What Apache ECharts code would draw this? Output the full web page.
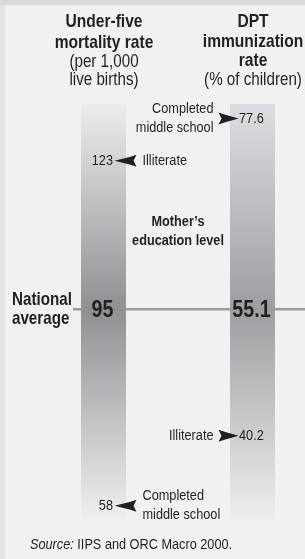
<!DOCTYPE html>
<html>
<head>
<meta charset="utf-8">
<script src="https://cdn.jsdelivr.net/npm/echarts@6/dist/echarts.min.js"></script>
<style>
  html, body { margin: 0; padding: 0; background: #f1f1f1; }
  #chart { width: 305px; height: 559px; }
</style>
</head>
<body>
<div id="chart"></div>
<script>
// no condensed face installed, so Liberation Sans squeezed horizontally
var FONT = '"Liberation Sans", Arial, sans-serif';
var SQUEEZE = 0.82;
var INK = '#231f20';

// data
var columns = ['Under-five mortality rate', 'DPT immunization rate'];
var nationalAverage = [95, 55.1];
var mortalityValues = [123, 58];
var mortalityLevels = ['Illiterate', 'Completed\nmiddle school'];
var dptValues = [77.6, 40.2];
var dptLevels = ['Completed\nmiddle school', 'Illiterate'];

var mortalityTitle = ['Under-five', 'mortality rate'];
var mortalityUnit = ['(per 1,000', 'live births)'];
var dptTitle = ['DPT', 'immunization', 'rate'];
var dptUnit = ['(% of children)'];

var BAR_W = 45;

// gradient band, darkest at the national average
function renderBand(colors) {
  return function (params, api) {
    var c = api.coord([api.value(0), api.value(1)]);
    var cs = params.coordSys;
    var stop = (c[1] - cs.y) / cs.height;
    return {
      type: 'group',
      children: [{
        type: 'rect',
        shape: { x: c[0] - BAR_W / 2, y: cs.y, width: BAR_W, height: cs.height },
        style: {
          fill: new echarts.graphic.LinearGradient(0, 0, 0, 1, [
            { offset: 0, color: colors[0] },
            { offset: stop, color: colors[1] },
            { offset: 1, color: colors[2] }
          ])
        }
      }, {
        type: 'text',
        x: c[0] - 1,
        y: c[1] + 1,
        scaleX: SQUEEZE,
        style: {
          text: String(api.value(1)),
          font: 'bold 24px ' + FONT,
          fill: INK,
          align: 'center',
          verticalAlign: 'middle'
        }
      }]
    };
  };
}

function renderAvgLine(params, api) {
  var c = api.coord([api.value(0), api.value(1)]);
  return {
    type: 'line',
    shape: { x1: c[0] - 30.5, y1: c[1], x2: api.getWidth(), y2: c[1] },
    style: { stroke: '#9b9b9b', lineWidth: 2.5 }
  };
}

// arrow markers; side = 1 means arrow points left (value on left)
function renderMarker(levels, side) {
  return function (params, api) {
    var c = api.coord([api.value(0), api.value(1)]);
    var y = c[1];
    var tip, back, pts;
    if (side === 1) {
      tip = c[0] + 11;
      back = tip + 22;
      pts = [[tip, y], [back - 6, y - 4], [back, y - 6], [back - 3, y], [back, y + 6], [back - 6, y + 4]];
    } else {
      tip = c[0] - 14;
      back = tip - 20;
      pts = [[tip, y], [back + 6, y - 4], [back, y - 6], [back + 3, y], [back, y + 6], [back + 6, y + 4]];
    }
    return {
      type: 'group',
      children: [{
        type: 'polygon',
        shape: { points: pts, smooth: 0 },
        style: { fill: INK }
      }, {
        type: 'text',
        x: side === 1 ? tip - 1.5 : tip + 0.5,
        y: y,
        scaleX: SQUEEZE,
        style: {
          text: String(api.value(1)),
          font: '15.5px ' + FONT,
          fill: INK,
          align: side === 1 ? 'right' : 'left',
          verticalAlign: 'middle'
        }
      }, {
        type: 'text',
        x: side === 1 ? back + 6 : back - 5,
        y: y,
        scaleX: SQUEEZE,
        style: {
          text: levels[params.dataIndex],
          font: '15.5px ' + FONT,
          lineHeight: 19,
          fill: INK,
          align: side === 1 ? 'left' : 'right',
          verticalAlign: 'middle'
        }
      }]
    };
  };
}

function textEl(x, y, text, font, align, lineHeight) {
  return {
    type: 'text', x: x, y: y, scaleX: SQUEEZE, silent: true,
    style: { text: text, font: font, fill: INK, align: align, verticalAlign: 'top', lineHeight: lineHeight }
  };
}

var chart = echarts.init(document.getElementById('chart'), null, { renderer: 'canvas' });

var option = {
  backgroundColor: '#f1f1f1',
  animation: false,
  grid: { left: 29, right: 0, top: 104, height: 416 },
  // column 0 sits at x=0, column 1 at x=1
  xAxis: { type: 'value', min: -0.5, max: 1.3523, show: false },
  yAxis: [
    { type: 'value', min: 55.3, max: 133.68, show: false },
    { type: 'value', min: 30.27, max: 79.3, show: false }
  ],
  graphic: [
    { type: 'rect', shape: { x: 0, y: 0, width: 305, height: 5 }, style: { fill: '#d9d9d9' } },
    { type: 'rect', shape: { x: 0, y: 5, width: 5, height: 554 }, style: { fill: '#e3e3e3' } },
    textEl(104, 12, mortalityTitle.join('\n'), 'bold 19px ' + FONT, 'center', 20.5),
    textEl(104, 52.5, mortalityUnit.join('\n'), '18.5px ' + FONT, 'center', 18.5),
    textEl(253, 12.5, dptTitle.join('\n'), 'bold 19px ' + FONT, 'center', 19.5),
    textEl(253, 70.5, dptUnit.join('\n'), '18.5px ' + FONT, 'center', 19),
    textEl(178, 212.5, "Mother\u2019s\neducation level", 'bold 15.5px ' + FONT, 'center', 19),
    textEl(12, 291, 'National\naverage', 'bold 18.5px ' + FONT, 'left', 18.5),
    {
      type: 'text', x: 30, y: 537, scaleX: SQUEEZE, silent: true,
      style: {
        text: '{i|Source:} IIPS and ORC Macro 2000.',
        font: '15.5px ' + FONT,
        fill: INK,
        verticalAlign: 'top',
        rich: { i: { fontStyle: 'italic', font: 'italic 15.5px ' + FONT, fill: INK } }
      }
    }
  ],
  series: [
    {
      type: 'custom', yAxisIndex: 0, z: 1, silent: true,
      data: [[0, nationalAverage[0]]],
      renderItem: renderAvgLine
    },
    {
      type: 'custom', yAxisIndex: 0, z: 2, silent: true,
      data: [[0, nationalAverage[0]]],
      renderItem: renderBand(['#ececed', '#8e9094', '#efefef'])
    },
    {
      type: 'custom', yAxisIndex: 1, z: 2, silent: true,
      data: [[1, nationalAverage[1]]],
      renderItem: renderBand(['#dcdde0', '#9c9ea1', '#eeeeef'])
    },
    {
      type: 'custom', yAxisIndex: 0, z: 3, silent: true,
      data: mortalityValues.map(function (v) { return [0, v]; }),
      renderItem: renderMarker(mortalityLevels, 1)
    },
    {
      type: 'custom', yAxisIndex: 1, z: 3, silent: true,
      data: dptValues.map(function (v) { return [1, v]; }),
      renderItem: renderMarker(dptLevels, -1)
    }
  ]
};

chart.setOption(option);
window.addEventListener('resize', function () { chart.resize(); });
</script>
</body>
</html>
